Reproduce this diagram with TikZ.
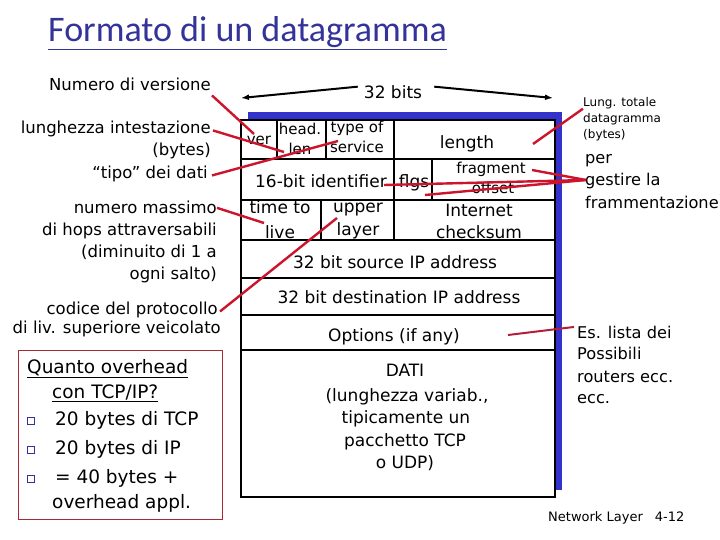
\documentclass[tikz,border=0pt]{standalone}
\usepackage{fontspec}
\setmainfont{DejaVu Sans}
\newfontfamily\titlefont{Carlito}
\usetikzlibrary{arrows.meta}
\definecolor{titleblue}{RGB}{51,51,153}
\definecolor{shadowblue}{RGB}{51,51,204}
\definecolor{annred}{RGB}{204,20,45}
\definecolor{optred}{RGB}{180,30,60}
\definecolor{boxred}{RGB}{170,40,50}
\tikzset{
  ann/.style={inner sep=0pt, anchor=base east, font=\fontsize{16.5}{18}\selectfont},
  fld/.style={inner sep=0pt, anchor=base, font=\fontsize{17}{19}\selectfont},
  fldsm/.style={inner sep=0pt, anchor=base, font=\fontsize{15}{17}\selectfont},
  rnote/.style={inner sep=0pt, anchor=base west, font=\fontsize{16.2}{18}\selectfont},
  smnote/.style={inner sep=0pt, anchor=base west, font=\fontsize{12}{14}\selectfont},
  ovl/.style={inner sep=0pt, anchor=base west, font=\fontsize{18.5}{20}\selectfont},
  boxline/.style={line width=2.6pt, black},
  redl/.style={line width=2.4pt, annred},
  bullet/.style={draw=titleblue, line width=1.1pt, minimum size=6.5pt, inner sep=0pt}
}
\begin{document}
\begin{tikzpicture}[x=1pt,y=-1pt]
\useasboundingbox (0,0) rectangle (720,540);
% title
\node[inner sep=0pt, anchor=base west, text=titleblue, font=\titlefont\fontsize{36}{38}\selectfont] (title) at (48,42) {\underline{Formato di un datagramma}};

% 32 bits header
\node[fld] (bits) at (393,99) {32 bits};
\coordinate (bl) at (241,98);
\coordinate (br) at (553,98);
\draw[line width=2pt, -{Latex[length=8pt,width=6pt]}] (bits.west) ++(-6,-6) -- (bl);
\draw[line width=2pt, -{Latex[length=8pt,width=6pt]}] (bits.east) ++(12,-6) -- (br);

% datagram box
\fill[shadowblue] (248,112) rectangle (562,490);
\draw[boxline, fill=white] (241,120) rectangle (555,497);
\draw[boxline] (241,159) -- (555,159);
\draw[boxline] (241,200) -- (555,200);
\draw[boxline] (241,240) -- (555,240);
\draw[boxline] (241,278) -- (555,278);
\draw[boxline] (241,315) -- (555,315);
\draw[boxline] (241,350) -- (555,350);
\draw[boxline] (277,120) -- (277,159);
\draw[boxline] (326,120) -- (326,159);
\draw[boxline] (394,120) -- (394,240);
\draw[boxline] (432,159) -- (432,200);
\draw[boxline] (321,200) -- (321,240);

% field texts
\node[fldsm] (ver) at (259,145) {ver};
\node[fldsm] (head) at (300,135) {head.};
\node[fldsm] (len) at (300,155) {len};
\node[fldsm] (tos1) at (357,133) {type of};
\node[fldsm] (tos2) at (357,153) {service};
\node[fld] (length) at (467,149) {length};
\node[fld] (ident) at (321,188) {16-bit identifier};
\node[fld] (flgs) at (414,188) {flgs};
\node[fldsm] (frag1) at (491,174) {fragment};
\node[fldsm] (frag2) at (493,194) {offset};
\node[fld] (ttl1) at (280,214) {time to};
\node[fld] (ttl2) at (280,238) {live};
\node[fld] (up1) at (358,213) {upper};
\node[fld] (up2) at (358,236) {layer};
\node[fld] (cks1) at (479,216) {Internet};
\node[fld] (cks2) at (479,239) {checksum};
\node[fld] (src) at (395,268) {32 bit source IP address};
\node[fld] (dst) at (399,303) {32 bit destination IP address};
\node[fld] (opt) at (394,341) {Options (if any)};
\node[fld] (d1) at (405,376) {DATI};
\node[fld] (d2) at (407,401) {(lunghezza variab.,};
\node[fld] (d3) at (406,423) {tipicamente un};
\node[fld] (d4) at (405,446) {pacchetto TCP};
\node[fld] (d5) at (405,468) {o UDP)};

% left annotations
\node[ann] (a1) at (211,91) {Numero di versione};
\node[ann] (a2) at (211,134) {lunghezza intestazione};
\node[ann] (a3) at (211,156) {(bytes)};
\node[ann] (a4) at (208,179) {“tipo” dei dati};
\node[ann] (a5) at (217,214) {numero massimo};
\node[ann] (a6) at (217,236) {di hops attraversabili};
\node[ann] (a7) at (217,258) {(diminuito di 1 a};
\node[ann] (a8) at (217,279) {ogni salto)};
\node[ann] (a9) at (218,314) {codice del protocollo};
\node[ann] (a10) at (221,333) {di liv. superiore veicolato};

% right annotations
\node[smnote] (r1) at (583,107) {Lung. totale};
\node[smnote] (r2) at (583,123) {datagramma};
\node[smnote] (r3) at (583,139) {(bytes)};
\node[rnote] (g1) at (585,164) {per};
\node[rnote] (g2) at (585,186) {gestire la};
\node[rnote] (g3) at (585,208) {frammentazione};
\node[rnote] (e1) at (577,338) {Es. lista dei};
\node[rnote] (e2) at (577,359) {Possibili};
\node[rnote] (e3) at (577,382) {routers ecc.};
\node[rnote] (e4) at (577,403) {ecc.};
\node[inner sep=0pt, anchor=base west, font=\fontsize{13}{15}\selectfont] (foot) at (548,521) {Network Layer\hspace{12pt}4-12};

% overhead box
\draw[boxred, line width=0.8pt] (18,350) rectangle (222,519);
\node[ovl] (q1) at (27,373) {\underline{Quanto overhead}};
\node[ovl] (q2) at (52,398) {\underline{con TCP/IP?}};
\node[ovl] (q3) at (55,425) {20 bytes di TCP};
\node[ovl] (q4) at (55,454) {20 bytes di IP};
\node[ovl] (q5) at (55,483) {= 40 bytes +};
\node[ovl] (q6) at (52,508) {overhead appl.};
\node[bullet] (b1) at (31,421) {};
\node[bullet] (b2) at (31,450) {};
\node[bullet] (b3) at (31,479) {};

% red connectors
\coordinate (pver) at (254,134);
\coordinate (plen) at (284,152);
\coordinate (ptos) at (338,141);
\coordinate (pttl) at (264,223);
\coordinate (pup) at (337,218);
\coordinate (plength) at (533,144);
\coordinate (pfrag) at (532,170);
\coordinate (pid) at (384,185);
\coordinate (pflg) at (425,195);
\coordinate (popt) at (508,335);
\coordinate (hub) at (586,180);
\draw[redl] (a1.south east) ++(1,4) -- (pver);
\draw[redl] (a2.east) ++(2,1) -- (plen);
\draw[redl] (a4.east) ++(4,1) -- (ptos);
\draw[redl] (a5.east) ++(0,0) -- (pttl);
\draw[redl] (a9.east) ++(2,2) -- (pup);
\draw[redl] (r1.west) ++(0,5) -- (plength);
\draw[redl] (hub) -- (pfrag);
\draw[redl] (hub) -- (pid);
\draw[redl] (hub) -- (pflg);
\draw[line width=2pt, optred] (e1.west) ++(-3,-5) -- (popt);
\end{tikzpicture}
\end{document}
